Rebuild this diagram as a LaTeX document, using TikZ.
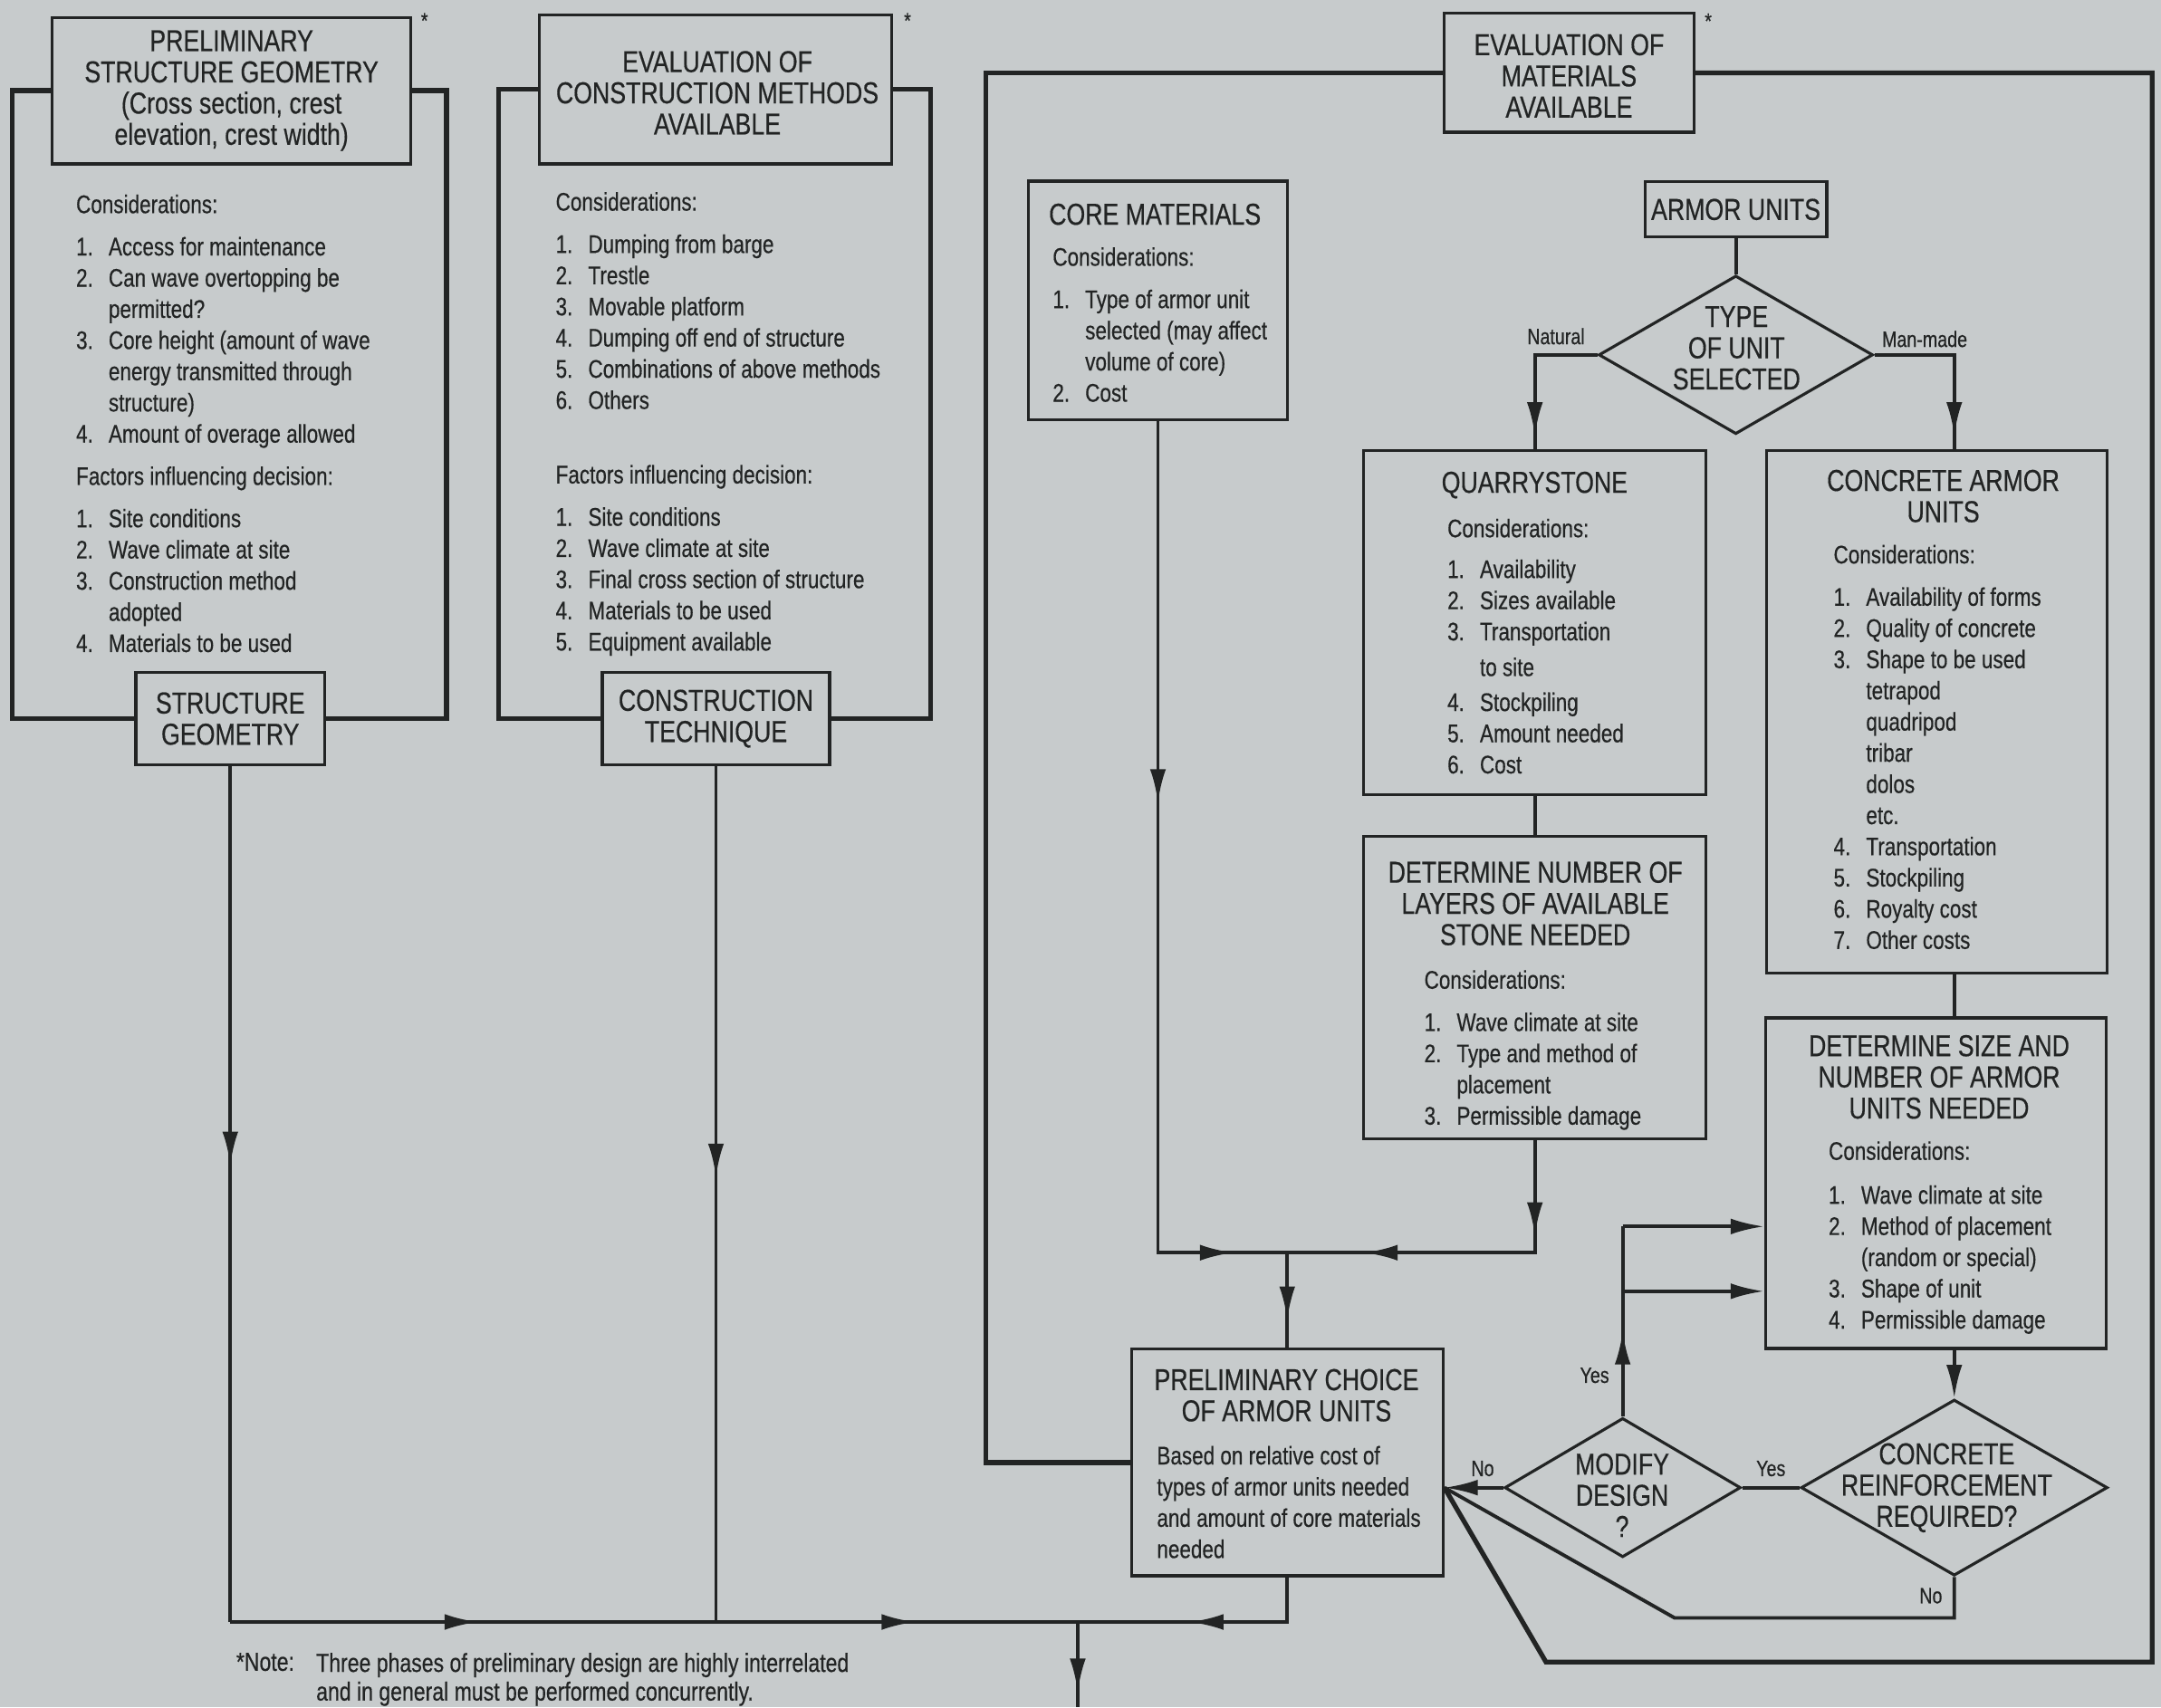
\documentclass[tikz,border=0pt]{standalone}
\usepackage{fontspec}
\setmainfont{Liberation Sans}[FakeStretch=0.8,FakeBold=0.45]
\usepackage{tikz}
\usetikzlibrary{arrows.meta,shapes.geometric,decorations.markings}
\definecolor{chartPaper}{HTML}{C7CBCC}
\definecolor{chartInk}{HTML}{222424}
\newcommand{\pxu}{0.15217mm}
\newcommand{\numitem}[2]{\makebox[10.2pt][l]{#1}#2}
\newcommand{\contline}[1]{\hspace*{10.2pt}#1}

\begin{document}
\begin{tikzpicture}[x=\pxu,y=-\pxu,>={Latex[length=10.5pt,width=5pt]},
  box/.style={draw=chartInk,line width=0.9pt,fill=chartPaper,inner sep=0pt},
  decide/.style={diamond,draw=chartInk,line width=0.9pt,fill=chartPaper,inner sep=0pt},
  sz/.style 2 args={minimum width=#1*\pxu,minimum height=#2*\pxu},
  ttl/.style={font=\fontsize{9.5}{9.8}\selectfont,align=center,text=chartInk,inner sep=0pt},
  body/.style={font=\fontsize{8}{9.8}\selectfont,align=left,anchor=north west,text=chartInk,inner sep=0pt},
  tag/.style={font=\fontsize{7}{8}\selectfont,text=chartInk,inner sep=0pt},
  flow/.style={draw=chartInk,line width=1.1pt},
  loop/.style={draw=chartInk,line width=1.5pt},
  tipat/.style={postaction={decorate,decoration={markings,mark=at position #1 with {\arrow{>}}}}}
]
  \fill[chartPaper] (0,0) rectangle (1568,1239);
  \useasboundingbox (0,0) rectangle (1568,1239);

  % --- structure geometry column
  \node[box,sz={260}{106.4}] (psg) at (168,65.8) {};
  \node[ttl] (psgTitle) at (psg.center)
    {PRELIMINARY\\STRUCTURE GEOMETRY\\(Cross section, crest\\elevation, crest width)};
  \node[tag] (starA) at (308,15) {*};
  \node[body] (psgBody) at (54.8,140.8) {Considerations:\\[3.5pt]
    \numitem{1.}{Access for maintenance}\\
    \numitem{2.}{Can wave overtopping be}\\
    \contline{permitted?}\\
    \numitem{3.}{Core height (amount of wave}\\
    \contline{energy transmitted through}\\
    \contline{structure)}\\
    \numitem{4.}{Amount of overage allowed}\\[3.5pt]
    Factors influencing decision:\\[3.5pt]
    \numitem{1.}{Site conditions}\\
    \numitem{2.}{Wave climate at site}\\
    \numitem{3.}{Construction method}\\
    \contline{adopted}\\
    \numitem{4.}{Materials to be used}};
  \node[box,ttl,sz={137}{67}] (sg) at (167.1,521.5) {STRUCTURE\\GEOMETRY};
  \draw[loop] (psg.west) -- ++(-28,0) |- (sg.west);
  \draw[loop] (psg.east) -- ++(25,0) |- (sg.east);

  % --- construction methods column
  \node[box,sz={255.4}{108.2}] (eocm) at (519.3,64.9) {};
  \node[ttl] (eocmTitle) at (520.5,67.3)
    {EVALUATION OF\\CONSTRUCTION METHODS\\AVAILABLE};
  \node[tag] (starB) at (658.5,15) {*};
  \node[body] (eocmBody) at (402.8,139) {Considerations:\\[3.5pt]
    \numitem{1.}{Dumping from barge}\\
    \numitem{2.}{Trestle}\\
    \numitem{3.}{Movable platform}\\
    \numitem{4.}{Dumping off end of structure}\\
    \numitem{5.}{Combinations of above methods}\\
    \numitem{6.}{Others}\\[13.6pt]
    Factors influencing decision:\\[3.5pt]
    \numitem{1.}{Site conditions}\\
    \numitem{2.}{Wave climate at site}\\
    \numitem{3.}{Final cross section of structure}\\
    \numitem{4.}{Materials to be used}\\
    \numitem{5.}{Equipment available}};
  \node[box,ttl,sz={165}{67}] (ct) at (519.5,521.5) {CONSTRUCTION\\TECHNIQUE};
  \draw[loop] (eocm.west) -- ++(-28.6,0) |- (ct.west);
  \draw[loop] (eocm.east) -- ++(27,0) |- (ct.east);

  % --- materials column
  \node[box,sz={181}{86.2}] (eoma) at (1138.5,52.9) {};
  \node[ttl] (eomaTitle) at (1138.5,55) {EVALUATION OF\\MATERIALS\\AVAILABLE};
  \node[tag] (starC) at (1239.5,15.3) {*};

  \node[box,sz={188.3}{173.1}] (cm) at (840.2,218) {};
  \node[ttl] (cmTitle) at (838,155.5) {CORE MATERIALS};
  \node[body] (cmBody) at (763.4,179) {Considerations:\\[3.5pt]
    \numitem{1.}{Type of armor unit}\\
    \contline{selected (may affect}\\
    \contline{volume of core)}\\
    \numitem{2.}{Cost}};

  \node[box,ttl,sz={132}{40}] (au) at (1259.5,152) {ARMOR UNITS};
  \node[decide,sz={199}{115}] (type) at (1259.5,257.5) {};
  \node[ttl] (typeText) at (1260,252.5) {TYPE\\OF UNIT\\SELECTED};

  \node[box,sz={248.6}{249.5}] (qs) at (1113.7,451.7) {};
  \node[ttl] (qsTitle) at (1113.5,352) {QUARRYSTONE};
  \node[body] (qsBody) at (1049.8,376) {Considerations:\\[3pt]
    \numitem{1.}{Availability}\\
    \numitem{2.}{Sizes available}\\
    \numitem{3.}{Transportation}\\[1.4pt]
    \contline{to site}\\[1.2pt]
    \numitem{4.}{Stockpiling}\\
    \numitem{5.}{Amount needed}\\
    \numitem{6.}{Cost}};

  \node[box,sz={248.6}{219.5}] (dn) at (1113.7,716.7) {};
  \node[ttl] (dnTitle) at (1114,655.6)
    {DETERMINE NUMBER OF\\LAYERS OF AVAILABLE\\STONE NEEDED};
  \node[body] (dnBody) at (1033,703.6) {Considerations:\\[3.5pt]
    \numitem{1.}{Wave climate at site}\\
    \numitem{2.}{Type and method of}\\
    \contline{placement}\\
    \numitem{3.}{Permissible damage}};

  \node[box,sz={247}{379}] (cau) at (1405.5,516.5) {};
  \node[ttl] (cauTitle) at (1410,360) {CONCRETE ARMOR\\UNITS};
  \node[body] (cauBody) at (1330,395) {Considerations:\\[3.5pt]
    \numitem{1.}{Availability of forms}\\
    \numitem{2.}{Quality of concrete}\\
    \numitem{3.}{Shape to be used}\\
    \contline{tetrapod}\\
    \contline{quadripod}\\
    \contline{tribar}\\
    \contline{dolos}\\
    \contline{etc.}\\
    \numitem{4.}{Transportation}\\
    \numitem{5.}{Stockpiling}\\
    \numitem{6.}{Royalty cost}\\
    \numitem{7.}{Other costs}};

  \node[box,sz={247}{239.8}] (ds) at (1404.5,858.6) {};
  \node[ttl] (dsTitle) at (1407,781.5)
    {DETERMINE SIZE AND\\NUMBER OF ARMOR\\UNITS NEEDED};
  \node[body] (dsBody) at (1326.4,827.8) {Considerations:\\[4pt]
    \numitem{1.}{Wave climate at site}\\
    \numitem{2.}{Method of placement}\\
    \contline{(random or special)}\\
    \numitem{3.}{Shape of unit}\\
    \numitem{4.}{Permissible damage}};

  \node[decide,sz={222.4}{127.7}] (crr) at (1418,1079.5) {};
  \node[ttl] (crrText) at (1412.5,1079.6) {CONCRETE\\REINFORCEMENT\\REQUIRED?};
  \node[decide,sz={171.3}{101}] (md) at (1177.4,1079.5) {};
  \node[ttl] (mdText) at (1177,1085) {MODIFY\\DESIGN\\?};

  \node[box,sz={226}{164.5}] (pcau) at (934,1061.25) {};
  \node[ttl] (pcauTitle) at (933.5,1012.5) {PRELIMINARY CHOICE\\OF ARMOR UNITS};
  \node[body] (pcauBody) at (839,1048.8) {Based on relative cost of\\
    types of armor units needed\\
    and amount of core materials\\
    needed};

  % --- junctions
  \coordinate (jo) at (782,1177);
  \coordinate (exit) at (782,1239);
  \coordinate (jn) at (pcau.north |- 0,909);
  \coordinate (pin) at (pcau.east |- md.west);
  \coordinate (yesA) at (md.north |- 0,890);
  \coordinate (yesB) at (md.north |- 0,937);

  % --- connectors
  \draw[flow,tipat=0.466] (sg.south) -- (sg.south |- jo);
  \draw[flow,tipat=0.48] (ct.south) -- (ct.south |- jo);
  \draw[flow,tipat=0.51] (sg.south |- jo) -- (ct.south |- jo);
  \draw[flow,tipat=0.55] (ct.south |- jo) -- (jo);
  \draw[flow,tipat=0.558] (pcau.south) |- (jo);
  \draw[flow,tipat=0.82] (jo) -- (exit);

  \draw[flow,tipat=0.397,tipat=0.944] (cm.south) |- (jn);
  \draw[flow,tipat=0.265,tipat=0.786] (dn.south) |- (jn);
  \draw[flow,tipat=0.707] (jn) -- (pcau.north);

  \draw[flow] (au.south) -- (type.north);
  \draw[flow,tipat=0.914] (type.west) -| (qs.north);
  \node[tag] (natural) at (1129,244) {Natural};
  \draw[flow,tipat=0.922] (type.east) -| (crr.north |- cau.north);
  \node[tag] (manmade) at (1396.5,246) {Man-made};
  \draw[flow] (qs.south) -- (dn.north);
  \draw[flow] (crr.north |- cau.south) -- (crr.north |- ds.north);
  \draw[flow,->] (crr.north |- ds.south) -- (crr.north);

  \draw[flow] (crr.west) -- node[tag,above=3pt] (yesR) {Yes} (md.east);
  \draw[flow,->] (md.west) -- node[tag,above=3pt,pos=0.35] (noL) {No} (pin);
  \draw[flow,tipat=0.45] (md.north) -- (yesA);
  \node[tag] (yesU) at (1157,998) {Yes};
  \draw[flow,->] (yesA) -- (yesA -| ds.west);
  \draw[flow,->] (yesB) -- (yesB -| ds.west);

  \draw[flow] (crr.south) -- (crr.south |- 0,1174) -- (1215,1174) -- (pin);
  \node[tag] (noB) at (1401,1158) {No};
  \draw[loop] (eoma.east) -| (1561.6,1206) -- (1121.7,1206) -- (pin);
  \draw[loop] (eoma.west) -- ++(-331.5,0) |- (pcau.west);

  % --- footnote
  \node[tag,font=\fontsize{8.2}{9}\selectfont,anchor=west] (noteMark) at (171,1206) {*Note:};
  \node[tag,font=\fontsize{8.2}{9}\selectfont,anchor=north west,align=left] (noteText) at (229,1199)
    {Three phases of preliminary design are highly interrelated\\
     and in general must be performed concurrently.};
\end{tikzpicture}
\end{document}
